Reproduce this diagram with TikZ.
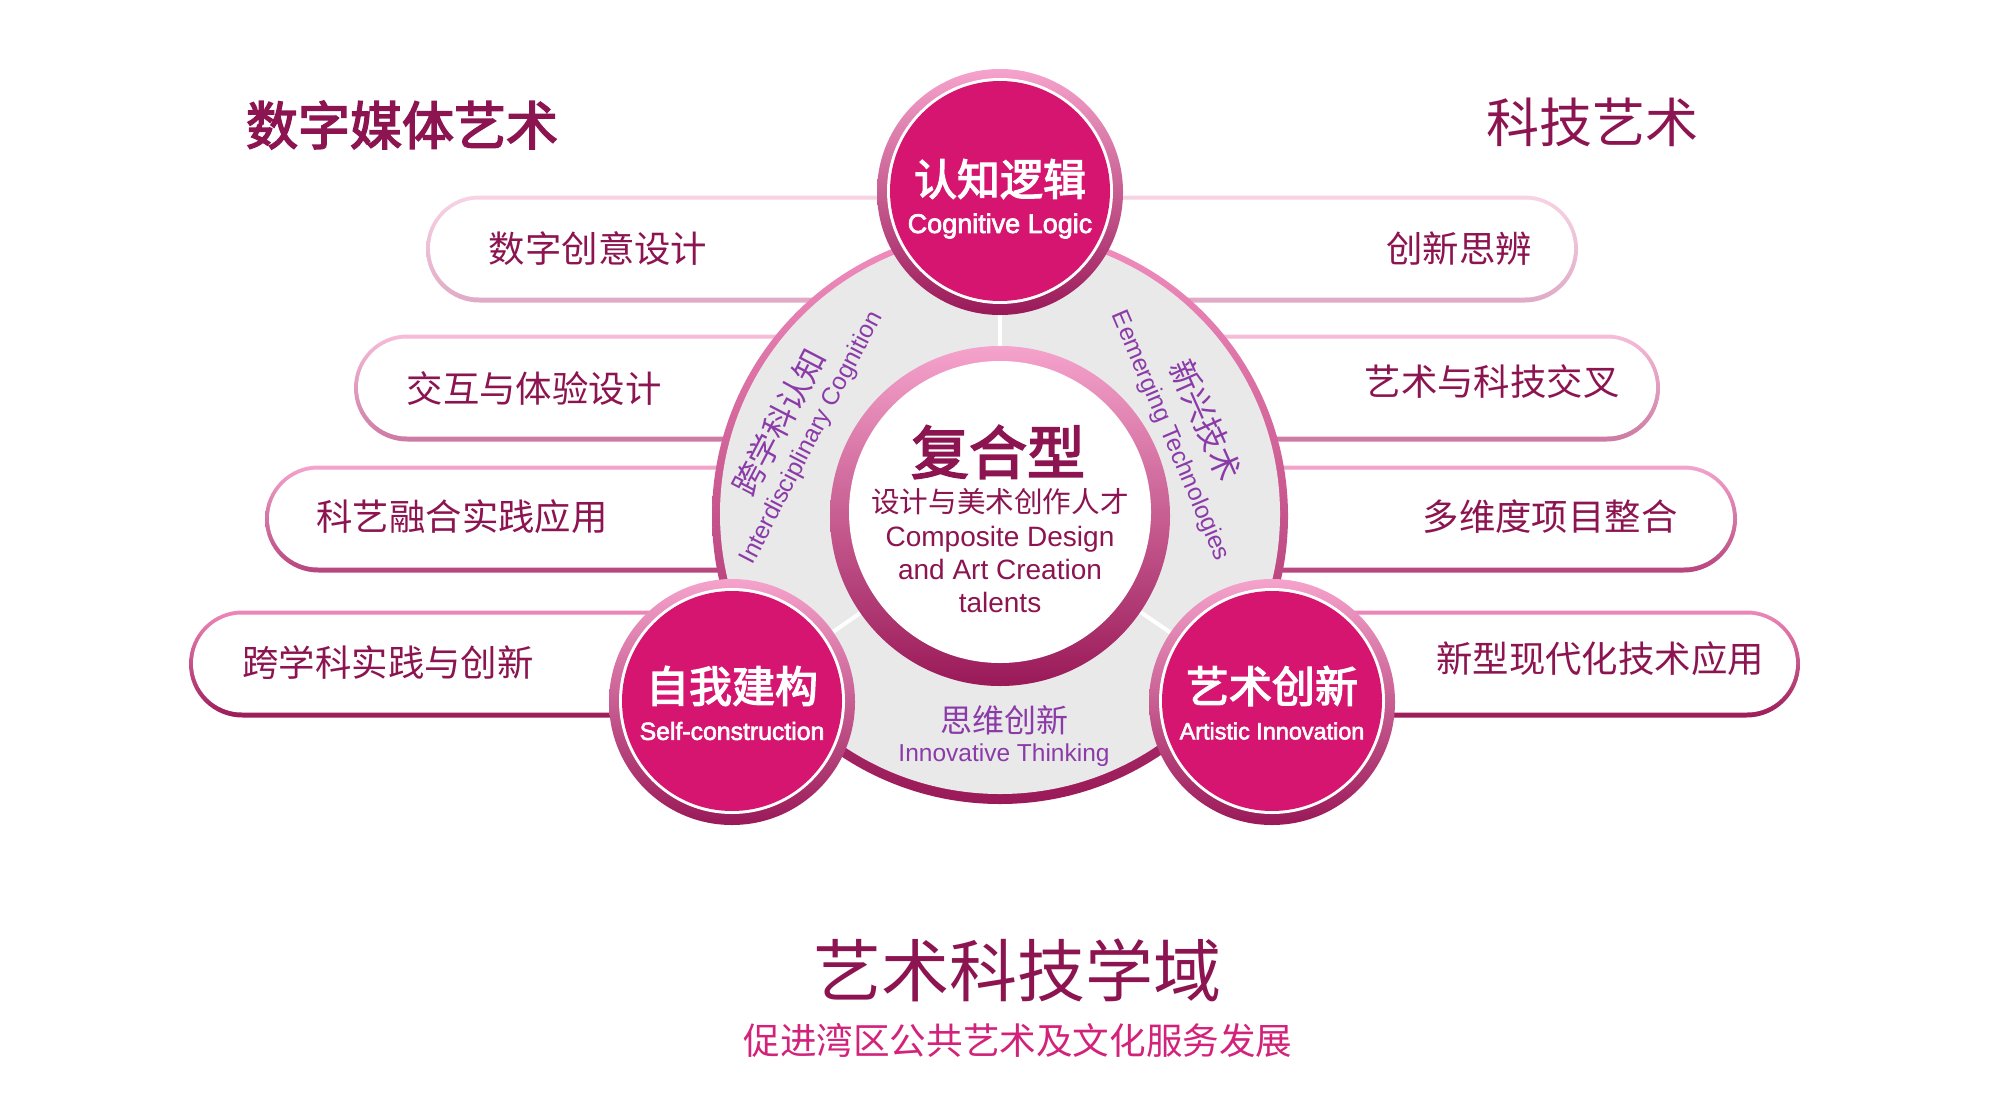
\documentclass[tikz,border=0pt]{standalone}
\usepackage{fontspec}
\setmainfont{Liberation Sans}
\newfontfamily\cjk{Noto Sans CJK SC}
\newfontfamily\cjkm{Noto Sans CJK SC}[FakeBold=3]
\newfontfamily\latinm{Liberation Sans}[FakeBold=2.5]
\usepackage{xcolor}
\usetikzlibrary{calc}

\definecolor{bordeaux}{HTML}{8C1450}
\definecolor{fuchsia}{HTML}{D5156F}
\definecolor{lie}{HTML}{9A1958}
\definecolor{rose}{HTML}{F290C0}
\definecolor{roseclair}{HTML}{F5A3CC}
\definecolor{gris}{HTML}{E9E9E9}
\definecolor{mauve}{HTML}{8B3BA8}
\definecolor{framboise}{HTML}{D2227A}
% bords des pilules
\definecolor{pAh}{HTML}{F7D3E4}\definecolor{pAb}{HTML}{E0AAC6}
\definecolor{pBh}{HTML}{F6BCD8}\definecolor{pBb}{HTML}{CC7AA3}
\definecolor{pCh}{HTML}{F3A4CC}\definecolor{pCb}{HTML}{B6457D}
\definecolor{pDh}{HTML}{EE88B9}\definecolor{pDb}{HTML}{9C1B58}

% pilule : gauche, droite, milieu, haut, bas
\newcommand{\pilule}[5]{%
  \shade[top color=#4, bottom color=#5, rounded corners=26.75pt] (#1,{#3-53.5}) rectangle (#2,{#3+53.5});
  \fill[white, rounded corners=24.5pt] ({#1+4},{#3-49.5}) rectangle ({#2-4},{#3+48.5});
}

\tikzset{
  txtpil/.style={inner sep=0pt, text=bordeaux, font=\cjk\fontsize{18.2}{21}\selectfont},
  txtcercle/.style={inner sep=0pt, text=white, font=\cjkm\fontsize{21.5}{24}\selectfont},
  txtcercleen/.style={inner sep=0pt, text=white, font=\latinm\fontsize{#1}{14}\selectfont},
  txtanneau/.style={inner sep=0pt, text=mauve, font=\cjk\fontsize{16}{18}\selectfont},
  txtanneauen/.style={inner sep=0pt, text=mauve, font=\fontsize{12.25}{14}\selectfont},
}

\begin{document}
\begin{tikzpicture}[x=0.5pt, y=-0.5pt]
\useasboundingbox (0,0) rectangle (2000,1113);

% pilules
\pilule{426}{1578}{249}{pAh}{pAb}
\pilule{354}{1660}{388}{pBh}{pBb}
\pilule{265}{1737}{519}{pCh}{pCb}
\pilule{189}{1800}{664}{pDh}{pDb}

% anneau
\coordinate (C) at (1000,516);
\coordinate (haut) at (1000,192);
\coordinate (gauche) at (732,702);
\coordinate (droite) at (1272,702);
\shade[top color=rose, bottom color=lie] (C) circle[radius=288];
\fill[gris] ($(C)+(0,-2)$) circle[radius=280];
\foreach \c in {haut,gauche,droite} \draw[white, line width=2pt] (C) -- (\c);

% textes de l'anneau
\node[txtanneau, rotate=62.5] (intercn) at (779,422) {跨学科认知};
\node[txtanneauen, rotate=62.5] (interen) at (812,438) {Interdisciplinary Cognition};
\node[txtanneau, rotate=-66] (emergcn) at (1206,420) {新兴技术};
\node[txtanneauen, rotate=-67] (emergen) at (1170,436) {Eemerging Technologies};
\node[txtanneau] (innovcn) at (1004,720) {思维创新};
\node[txtanneauen] (innoven) at (1004,755) {Innovative Thinking};

% cercle central
\shade[top color=roseclair, bottom color=lie] (C) circle[radius=170];
\fill[white] ($(C)+(0,-4)$) circle[radius=151];

% trois cercles
\foreach \c in {haut,gauche,droite}{
  \shade[top color=roseclair, bottom color=lie] (\c) circle[radius=123];
  \fill[white] ($(\c)+(0,-1)$) circle[radius=113];
  \fill[fuchsia] ($(\c)+(0,-1)$) circle[radius=110];
}

% textes des cercles
\node[txtcercle] (logiquecn) at (1000,179) {认知逻辑};
\node[txtcercleen=13.5] (logiqueen) at (1000,226) {Cognitive Logic};
\node[txtcercle] (constrcn) at (732,686) {自我建构};
\node[txtcercleen=12.4] (constren) at (732,731) {Self-construction};
\node[txtcercleen=11.7] (arten) at (1272,731) {Artistic Innovation};
\node[txtcercle] (artcn) at (1272,686) {艺术创新};

% texte central
\node[inner sep=0pt, text=bordeaux, font=\cjkm\fontsize{29}{32}\selectfont] (fuhe) at (998,452) {复合型};
\node[inner sep=0pt, text=bordeaux, font=\cjk\fontsize{14.3}{16}\selectfont] (talentcn) at (1000,502) {设计与美术创作人才};
\node[inner sep=0pt, text=bordeaux, font=\fontsize{14}{16.5}\selectfont, align=center] (talenten) at (1000,569) {Composite Design\\and Art Creation\\talents};

% textes des pilules
\node[txtpil] (p1g) at (598,249) {数字创意设计};
\node[txtpil] (p2g) at (534,389) {交互与体验设计};
\node[txtpil] (p3g) at (462,517) {科艺融合实践应用};
\node[txtpil] (p4g) at (388,663) {跨学科实践与创新};
\node[txtpil] (p1d) at (1459,249) {创新思辨};
\node[txtpil] (p2d) at (1492,382) {艺术与科技交叉};
\node[txtpil] (p3d) at (1550,517) {多维度项目整合};
\node[txtpil] (p4d) at (1600,659) {新型现代化技术应用};

% titres
\node[inner sep=0pt, text=bordeaux, font=\cjkm\fontsize{26}{30}\selectfont] (titregauche) at (402,125) {数字媒体艺术};
\node[inner sep=0pt, text=bordeaux, font=\cjk\fontsize{26.5}{30}\selectfont] (titredroite) at (1592,122) {科技艺术};
\node[inner sep=0pt, text=bordeaux, font=\cjk\fontsize{34}{38}\selectfont] (domaine) at (1017,970) {艺术科技学域};
\node[inner sep=0pt, text=framboise, font=\cjk\fontsize{18.3}{22}\selectfont] (slogan) at (1018,1040) {促进湾区公共艺术及文化服务发展};

\end{tikzpicture}
\end{document}
